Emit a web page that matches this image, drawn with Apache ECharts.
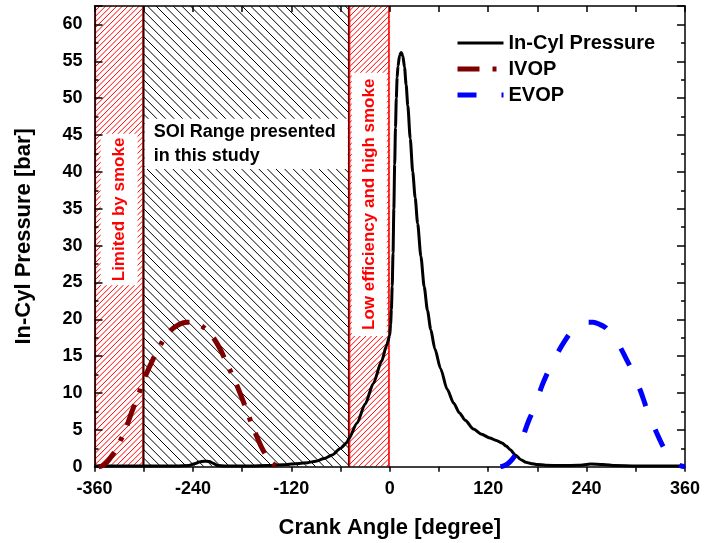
<!DOCTYPE html>
<html>
<head>
<meta charset="utf-8">
<script src="https://cdn.jsdelivr.net/npm/echarts@6/dist/echarts.min.js"></script>
<style>html,body{margin:0;padding:0;background:#fff}#c{width:704px;height:543px}</style>
</head>
<body>
<div id="c"></div>
<script>
// ---- data ----
const pressureAngle = [-360,-330,-300,-260,-245,-238,-232,-226,-220,-215,-210,-200,-170,-150,-130,-120,-110,-100,-90,-80,-70,-60,-52,-50,-40,-30,-20,-10,-4,0,1,2,3,4,5,6,7,8,9,10,12,14,16,18,20,22,25,28,31,34,38,42,46,50,55,62,70,78,85,92,102,112,122,130,137,142,147,153,160,166,172,180,190,210,230,245,260,275,300,330,360];
const pressureValue = [0.1,0.1,0.1,0.1,0.15,0.4,0.65,0.75,0.7,0.45,0.15,0.1,0.1,0.15,0.25,0.35,0.45,0.55,0.75,1.1,1.6,2.5,3.3,3.8,5.9,8.5,11.3,14.3,16.4,17.8,19.3,21.3,24.5,29,35,41,46,50,52.8,54.3,55.8,56.2,55.7,54.2,51.8,49,44.5,40,36.5,33,28.5,24.4,21.2,18.6,16,13.3,10.5,8.6,7.3,6.3,5.1,4.4,3.9,3.55,3.2,2.8,2.3,1.6,0.95,0.6,0.45,0.3,0.2,0.15,0.2,0.35,0.3,0.15,0.1,0.1,0.1];
const ivopAngle = [-355,-350,-345,-340,-335,-330,-323,-315,-307,-299,-289,-277,-267,-257,-247,-237,-227,-217,-207,-197,-187,-177,-167,-157,-150,-144,-139,-135];
const ivopValue = [0,0.15,0.6,1.3,2.1,3.2,4.8,7.3,9.6,12,14.5,17,18.5,19.3,19.6,19.5,18.9,17.8,16.0,13.6,11.2,8.4,5.4,2.8,1.4,0.6,0.15,0];
const evopAngle = [135,140,145,150,155,160,165,170,176,186,196,205,213,222,231,240,248,256,264,272,280,288,296,306,312,318,325,333,341,348,355,360];
const evopValue = [0,0.15,0.5,1.1,1.9,3.1,4.9,6.4,7.9,11.1,13.6,15.5,17,18.4,19.2,19.6,19.6,19.3,18.8,17.6,16.4,14.7,12.9,10.2,8.3,6.6,4.7,2.8,1.35,0.5,0.1,0];
const regionStart = [-360, -300, -50];
const regionEnd = [-300, -50, 0];
const regionLabels = ['Limited by smoke', 'SOI Range presented\nin this study', 'Low efficiency and high smoke'];
const seriesNames = ['In-Cyl Pressure', 'IVOP', 'EVOP'];
const X_MIN = -360, X_MAX = 360, X_INTERVAL = 120;
const Y_MIN = 0, Y_MAX = 62.5, Y_INTERVAL = 5;

// ---- chart ----
const FONT = 'Arial, "Liberation Sans", sans-serif';
const chart = echarts.init(document.getElementById('c'), null, {renderer: 'canvas'});
const pairs = (xs, ys) => xs.map((x, i) => [x, ys[i]]);
const regionData = regionStart.map((s, i) => [s, regionEnd[i], i]);

const lineStyles = [
  {color: '#000000', width: 3, type: 'solid'},
  {color: '#7f0000', width: 5, type: [22, 13, 4, 13]},
  {color: '#0000ff', width: 5, type: [19, 25]}
];

function renderRegion(params, api) {
  const i = api.value(2);
  const a = api.coord([api.value(0), Y_MAX]);
  const b = api.coord([api.value(1), Y_MIN]);
  const L = a[0], T = a[1], R = b[0], B = b[1], H = B - T;
  const red = i !== 1;
  const color = red ? '#ff0000' : '#000000';
  const step = red ? 5.6 : 8.6;
  const children = [];
  for (let s = L - H; s < R; s += step) {
    const xa = Math.max(L, s), xb = Math.min(R, s + H);
    if (xb <= xa) continue;
    let y1, y2;
    if (red) { y1 = B - (xa - s); y2 = B - (xb - s); }
    else { y1 = T + (xa - s); y2 = T + (xb - s); }
    children.push({type: 'line', shape: {x1: xa, y1: y1, x2: xb, y2: y2}, style: {stroke: color, lineWidth: 1}});
  }
  const off = red ? 0.8 : 0;
  children.push({type: 'line', shape: {x1: L + off, y1: T, x2: L + off, y2: B}, style: {stroke: color, lineWidth: 1.6}});
  children.push({type: 'line', shape: {x1: R - off, y1: T, x2: R - off, y2: B}, style: {stroke: color, lineWidth: 1.6}});
  return {type: 'group', children: children};
}

function renderLabel(params, api) {
  const i = api.value(2);
  const x0 = api.value(0), x1 = api.value(1);
  const text = regionLabels[i];
  if (i === 1) {
    const a = api.coord([x0, 47.2]);
    const b = api.coord([x1, 40.4]);
    return {type: 'group', children: [
      {type: 'rect', shape: {x: a[0] + 1, y: a[1], width: b[0] - a[0] - 2, height: b[1] - a[1]}, style: {fill: '#ffffff'}},
      {type: 'text', x: a[0] + 10, y: (a[1] + b[1]) / 2, style: {text: text, fill: '#000', font: 'bold 18px ' + FONT, align: 'left', verticalAlign: 'middle', lineHeight: 24}}
    ]};
  }
  const cy = i === 0 ? 34.9 : 35.6;
  const c = api.coord([(x0 + x1) / 2, cy]);
  return {type: 'text', x: c[0], y: c[1], rotation: Math.PI / 2,
    style: {text: text, fill: '#ff0000', font: 'bold 17px ' + FONT, align: 'center', verticalAlign: 'middle',
      backgroundColor: '#ffffff', padding: i === 0 ? [10, 4] : [9, 6]}};
}

const tickStyle = {color: '#000', width: 1.5};
function xAxisCfg(bottom) {
  return {
    type: 'value', min: X_MIN, max: X_MAX, interval: X_INTERVAL, position: bottom ? 'bottom' : 'top', z: 3,
    axisLine: {show: true, onZero: false, lineStyle: {color: '#000', width: 1.5}},
    axisTick: {show: true, inside: !bottom, length: bottom ? 5 : 6, lineStyle: tickStyle},
    minorTick: {show: true, splitNumber: 2, length: bottom ? 5 : 6, lineStyle: tickStyle},
    axisLabel: {show: bottom, color: '#000', fontSize: 18, fontWeight: 'bold', fontFamily: FONT, margin: 13},
    splitLine: {show: false},
    name: bottom ? 'Crank Angle [degree]' : '', nameLocation: 'middle', nameGap: 50,
    nameTextStyle: {color: '#000', fontSize: 22, fontWeight: 'bold', fontFamily: FONT}
  };
}
function yAxisCfg(left) {
  return {
    type: 'value', min: Y_MIN, max: Y_MAX, interval: Y_INTERVAL, position: left ? 'left' : 'right', z: 3,
    axisLine: {show: true, onZero: false, lineStyle: {color: '#000', width: 1.5}},
    axisTick: {show: true, inside: true, length: 8, lineStyle: tickStyle},
    minorTick: {show: true, splitNumber: 2, length: 4, lineStyle: tickStyle},
    axisLabel: {show: left, showMaxLabel: false, color: '#000', fontSize: 18, fontWeight: 'bold', fontFamily: FONT, margin: 12},
    splitLine: {show: false},
    name: left ? 'In-Cyl Pressure [bar]' : '', nameLocation: 'middle', nameGap: 60,
    nameTextStyle: {color: '#000', fontSize: 22, fontWeight: 'bold', fontFamily: FONT}
  };
}

chart.setOption({
  animation: false,
  backgroundColor: '#ffffff',
  grid: {left: 94.5, right: 19, top: 6, bottom: 76.3, containLabel: false, outerBoundsMode: 'none'},
  xAxis: [xAxisCfg(true), xAxisCfg(false)],
  yAxis: [yAxisCfg(true), yAxisCfg(false)],
  legend: {
    orient: 'vertical', left: 450, top: 28, itemWidth: 46, itemHeight: 14, itemGap: 6,
    itemStyle: {color: 'rgba(0,0,0,0)', borderWidth: 0, opacity: 0},
    data: seriesNames.map((n, i) => ({name: n, lineStyle: {width: lineStyles[i].width, type: lineStyles[i].type, color: lineStyles[i].color}})),
    textStyle: {color: '#000', fontSize: 20, fontWeight: 'bold', fontFamily: FONT}
  },
  series: [
    {type: 'custom', name: 'regions', data: regionData, renderItem: renderRegion, z: 1, silent: true, clip: true},
    {type: 'custom', name: 'labels', data: regionData, renderItem: renderLabel, z: 2, silent: true},
    {type: 'line', name: seriesNames[0], data: pairs(pressureAngle, pressureValue), symbol: 'none', showSymbol: false,
      smooth: 0.25, smoothMonotone: 'x', lineStyle: lineStyles[0], itemStyle: {color: lineStyles[0].color}, z: 4},
    {type: 'line', name: seriesNames[1], data: pairs(ivopAngle, ivopValue), symbol: 'none', showSymbol: false,
      smooth: 0.3, lineStyle: lineStyles[1], itemStyle: {color: lineStyles[1].color}, z: 5},
    {type: 'line', name: seriesNames[2], data: pairs(evopAngle, evopValue), symbol: 'none', showSymbol: false,
      smooth: 0.3, lineStyle: lineStyles[2], itemStyle: {color: lineStyles[2].color}, z: 6}
  ]
});
</script>
</body>
</html>
